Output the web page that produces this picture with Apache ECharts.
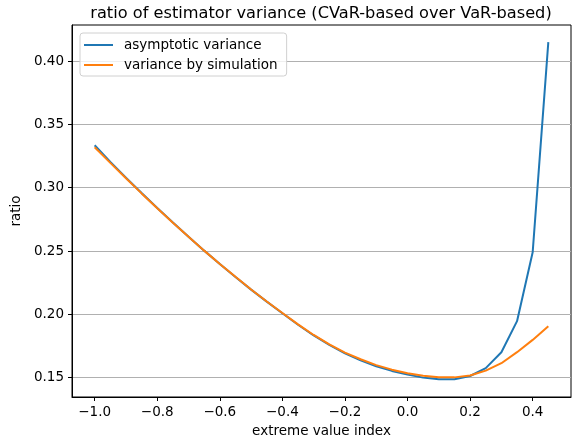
<!DOCTYPE html>
<html>
<head>
<meta charset="utf-8">
<script src="https://cdn.jsdelivr.net/npm/echarts@6/dist/echarts.min.js"></script>
<style>
  html, body { margin: 0; padding: 0; background: #fff; }
  #chart { width: 578px; height: 443px; }
</style>
</head>
<body>
<div id="chart"></div>
<script>
// extreme value index, -1.0 .. 0.45 in steps of 0.05
const evi = [-1.0, -0.95, -0.9, -0.85, -0.8, -0.75, -0.7, -0.65, -0.6, -0.55,
  -0.5, -0.45, -0.4, -0.35, -0.3, -0.25, -0.2, -0.15, -0.1, -0.05,
  0.0, 0.05, 0.1, 0.15, 0.2, 0.25, 0.3, 0.35, 0.4, 0.45]

const asymptotic = [0.3335, 0.3204, 0.3079, 0.2958, 0.2840, 0.2725, 0.2613, 0.2503, 0.2398, 0.2295,
  0.2195, 0.2100, 0.2008, 0.1918, 0.1833, 0.1758, 0.1692, 0.1637, 0.1590, 0.1553,
  0.1524, 0.1500, 0.1487, 0.1488, 0.1513, 0.1575, 0.1700, 0.1946, 0.2490, 0.4150]

const simulation = [0.3320, 0.3196, 0.3074, 0.2955, 0.2838, 0.2724, 0.2612, 0.2503, 0.2398, 0.2296,
  0.2196, 0.2101, 0.2010, 0.1921, 0.1837, 0.1763, 0.1698, 0.1645, 0.1599, 0.1563,
  0.1535, 0.1514, 0.1503, 0.1502, 0.1517, 0.1555, 0.1614, 0.1701, 0.1798, 0.1905]

const xTicks = [-1.0, -0.8, -0.6, -0.4, -0.2, 0.0, 0.2, 0.4]
const yTicks = [0.15, 0.20, 0.25, 0.30, 0.35, 0.40]

const font = 'DejaVu Sans'
const fmt = (v, d) => {
  const s = Math.abs(v).toFixed(d)
  return v < -1e-9 ? '\u2212' + s : s
}

const chart = echarts.init(document.getElementById('chart'))

chart.setOption({
  animation: false,
  backgroundColor: '#fff',
  textStyle: { fontFamily: font },
  title: {
    text: 'ratio of estimator variance (CVaR-based over VaR-based)',
    left: 316,
    textAlign: 'center',
    top: 1,
    textStyle: { fontFamily: font, fontSize: 16.2, fontWeight: 'normal', color: '#000' }
  },
  legend: {
    orient: 'vertical',
    left: 80,
    top: 33,
    padding: [5, 9, 4, 4],
    itemGap: 6,
    itemWidth: 29,
    itemHeight: 2,
    icon: 'rect',
    backgroundColor: 'rgba(255,255,255,0.8)',
    borderColor: '#d0d0d0',
    borderWidth: 1,
    borderRadius: 3,
    textStyle: { fontFamily: font, fontSize: 13.5, color: '#000', padding: [0, 0, 0, 6] },
    data: ['asymptotic variance', 'variance by simulation']
  },
  grid: {
    left: 72, right: 7, top: 25, bottom: 46,
    show: true, borderColor: '#000', borderWidth: 1, containLabel: false
  },
  xAxis: {
    type: 'value',
    min: -1.0725,
    max: 0.5225,
    name: 'extreme value index',
    nameLocation: 'middle',
    nameGap: 27,
    nameTextStyle: { fontFamily: font, fontSize: 13.5, color: '#000' },
    axisLine: { show: true, onZero: false, lineStyle: { color: '#000', width: 1 } },
    axisTick: { show: true, inside: false, length: 4, customValues: xTicks, lineStyle: { color: '#000' } },
    axisLabel: {
      customValues: xTicks, margin: 8, fontFamily: font, fontSize: 13.5, color: '#000',
      formatter: v => fmt(v, 1)
    },
    splitLine: { show: false }
  },
  yAxis: {
    type: 'value',
    min: 0.1347,
    max: 0.4285,
    name: 'ratio',
    nameLocation: 'middle',
    nameGap: 40,
    nameTextStyle: { fontFamily: font, fontSize: 13.5, color: '#000' },
    axisLine: { show: true, onZero: false, lineStyle: { color: '#000', width: 1 } },
    axisTick: { show: true, inside: false, length: 4, customValues: yTicks, lineStyle: { color: '#000' } },
    axisLabel: {
      customValues: yTicks, margin: 8, fontFamily: font, fontSize: 13.5, color: '#000',
      formatter: v => fmt(v, 2)
    },
    splitLine: { show: true, lineStyle: { color: '#b0b0b0', width: 1 } }
  },
  series: [
    {
      name: 'asymptotic variance',
      type: 'line',
      showSymbol: false,
      color: '#1f77b4',
      lineStyle: { width: 2, color: '#1f77b4' },
      data: evi.map((x, i) => [x, asymptotic[i]])
    },
    {
      name: 'variance by simulation',
      type: 'line',
      showSymbol: false,
      color: '#ff7f0e',
      lineStyle: { width: 2, color: '#ff7f0e' },
      data: evi.map((x, i) => [x, simulation[i]])
    }
  ]
})
</script>
</body>
</html>
